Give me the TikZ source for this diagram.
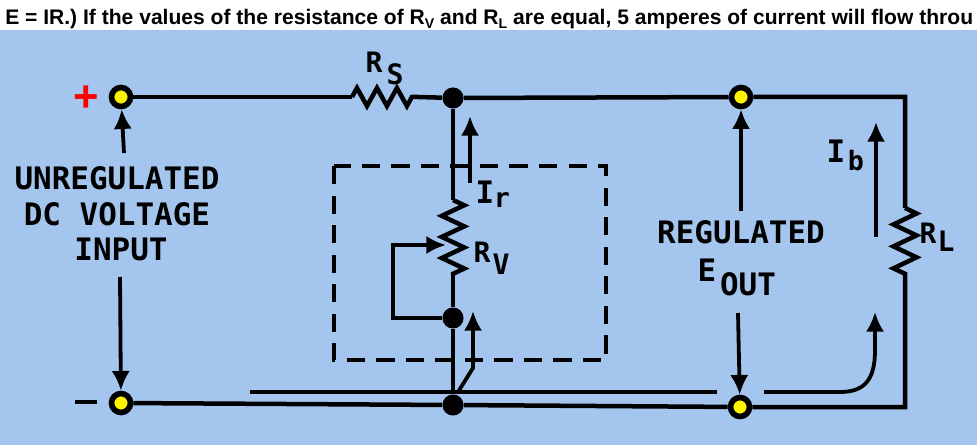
\documentclass[tikz,border=0pt]{standalone}
\usepackage{fontspec}
\setmainfont{Liberation Sans}
\newfontfamily\stencil{DejaVu Sans Mono}
\usetikzlibrary{arrows.meta,positioning,decorations.pathmorphing}
\tikzset{>={Latex[length=14pt,width=13pt]}}
\definecolor{skyback}{HTML}{A4C6EE}
\tikzset{
  wire/.style={draw=black, line width=3.2pt},
  thinwire/.style={draw=black, line width=2.4pt},
  flow/.style={->, draw=black, line width=2.7pt},
  boxline/.style={draw=black, line width=3.2pt, dash pattern=on 13pt off 8pt},
  zig/.style 2 args={wire, decorate, decoration={zigzag, segment length=#1, amplitude=#2}},
  terminal/.style={circle, fill=yellow, draw=black, line width=4pt, minimum size=13.5pt, inner sep=0pt},
  junction/.style={circle, fill=black, minimum size=15pt, inner sep=0pt},
  tag/.style={font=\stencil\bfseries\fontsize{22}{22}\selectfont, inner sep=0pt},
  small tag/.style={font=\stencil\bfseries\fontsize{19}{19}\selectfont, inner sep=0pt},
  sub tag/.style={font=\stencil\bfseries\fontsize{20}{20}\selectfont, inner sep=0pt}
}
\begin{document}
\begin{tikzpicture}[x=0.025cm,y=-0.025cm]
    \useasboundingbox (0,0) rectangle (977,445);
    \fill[skyback] (0,30) rectangle (977,445);
    \node[anchor=base west, inner sep=0pt, font=\bfseries\fontsize{14.98}{16}\selectfont] (header) at (5,25)
        {E = IR.) If the values of the resistance of R\raisebox{-2.5pt}{\fontsize{10}{10}\selectfont V} and R\raisebox{-2.5pt}{\fontsize{10}{10}\selectfont L} are equal, 5 amperes of current will flow throu};

    % terminals and junctions
    \node[terminal] (plusin) at (121,97) {};
    \node[terminal] (minusin) at (121,403) {};
    \node[terminal] (plusout) at (741,97) {};
    \node[terminal] (minusout) at (740,407) {};
    \node[junction] (topj) at (453,98) {};
    \node[junction] (botj) at (453,405) {};
    \node[junction] (midj) at (453,318) {};

    \coordinate (rsa) at (352,97);
    \coordinate (rsb) at (418,97);
    \coordinate (rva) at (453,200);
    \coordinate (rvb) at (453,275);
    \coordinate (rla) at (905,208);
    \coordinate (rlb) at (905,278);
    \coordinate (cornerta) at (905,97);
    \coordinate (cornertb) at (905,407);
    \coordinate (wipe) at (393,245);
    \coordinate (wipetip) at (446,245);
    \coordinate (wipeb) at (393,318);

    % main loop
    \draw[wire] (plusin) -- (rsa);
    \draw[zig={14.2pt}{6.4pt}] (rsa) -- (rsb);
    \draw[wire] (rsb) -- (topj) -- (plusout) -- (cornerta) -- (rla);
    \draw[zig={15.6pt}{8.2pt}] (rla) -- (rlb);
    \draw[wire] (rlb) -- (cornertb) -- (minusout) -- (botj) -- (minusin);

    % regulator branch
    \draw[wire] (topj) -- (rva);
    \draw[zig={15pt}{8pt}] (rva) -- (rvb);
    \draw[wire] (rvb) -- (midj) -- (botj);
    \draw[wire] (midj) -- (wipeb) -- (wipe) -- (400,245);
    \draw[flow] (wipe) -- (wipetip);

    \draw[boxline] (334,166) rectangle (606,360);

    % voltage arrows
    \draw[flow] (124,153) -- (plusin);
    \draw[flow] (120,277) -- (minusin);
    \draw[flow] (741,211) -- (plusout);
    \draw[flow] (738,313) -- (minusout);

    % current arrows
    \coordinate (irtip) at (470,116);
    \coordinate (irend) at (470,183);
    \coordinate (ibtip) at (876,122);
    \coordinate (ibend) at (876,237);
    \draw[flow] (irend) -- (irtip);
    \draw[flow] (ibend) -- (ibtip);
    \draw[flow] (botj) ++(5,-13) -- (473,368) -- (473,311);
    \draw[thinwire] (250,392) -- (717,392);
    \draw[flow] (764,392) -- (840,392) .. controls (866,392) and (875,378) .. (875,350) -- (875,312);

    % labels
    \node[font=\bfseries\fontsize{31}{31}\selectfont, text=red, inner sep=0pt] (plussign) at (86,99) {+};
    \node[fill=black, minimum width=15pt, minimum height=3.4pt, inner sep=0pt] (minussign) at (86,402) {};
    \node[tag] (inputa) at (117,178) {UNREGULATED};
    \node[tag] (inputb) at (117,214) {DC VOLTAGE};
    \node[tag] (inputc) at (121,249) {INPUT};
    \node[tag] (outa) at (741,232) {REGULATED};
    \node[tag] (oute) at (707,270) {E};
    \node[tag] (outb) at (748,284) {OUT};
    \node[sub tag] (rsr) at (374,62) {R};
    \node[sub tag] (rss) at (395,74) {S};
    \node[tag] (irl) at (485,192) {I};
    \node[small tag] (irr) at (502,200) {r};
    \node[sub tag] (rvr) at (482,252) {R};
    \node[sub tag] (rvv) at (501,264) {V};
    \node[tag] (ibl) at (836,151) {I};
    \node[small tag] (ibb) at (856,161) {b};
    \node[sub tag] (rlr) at (928,233) {R};
    \node[sub tag] (rll) at (946,241) {L};
\end{tikzpicture}
\end{document}
